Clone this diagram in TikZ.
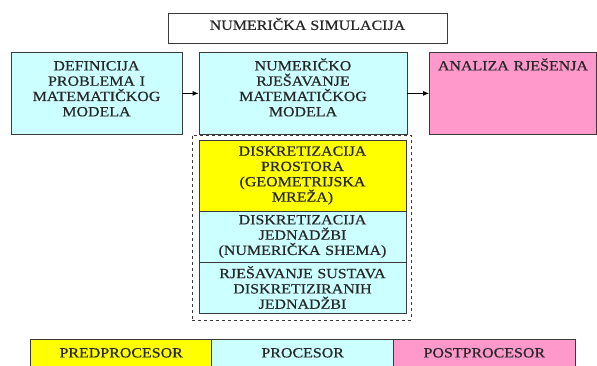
\documentclass[tikz,border=0pt]{standalone}
\usepackage{fontspec}
\setmainfont[FakeStretch=1.14,FakeBold=0.4]{Liberation Serif}
\usepackage{tikz}
\usetikzlibrary{arrows.meta,shapes}

\definecolor{svcyan}{HTML}{CCFFFF}
\definecolor{svpink}{HTML}{FF99CC}
\definecolor{svyellow}{HTML}{FFFF00}
\definecolor{svline}{HTML}{3A3A3A}
\definecolor{svtext}{HTML}{262626}

\begin{document}
\begin{tikzpicture}[x=1pt,y=-1pt,
  blok/.style={rectangle,draw=svline,line width=0.8pt,align=center,inner sep=0pt,
    text=svtext,font=\fontsize{14}{15.3}\selectfont},
  gornji/.style={blok,anchor=north,text height=18pt,text depth=64pt},
  donji/.style={blok,anchor=north,text height=18pt,text depth=14pt},
  srednji/.style={blok,minimum width=207pt,text width=200pt},
  strelica/.style={-{Latex[length=6pt,width=5pt]},line width=0.9pt,draw=black}]
\clip (0,0) rectangle (597,366);

\node[blok,anchor=north,text height=16.5pt,text depth=13.5pt,minimum width=279pt] (sim) at (307.5,13) {NUMERIČKA SIMULACIJA};

\node[gornji,fill=svcyan,minimum width=171pt,text width=165pt] (def) at (96.5,52) {DEFINICIJA\\PROBLEMA I\\MATEMATIČKOG\\MODELA};
\node[gornji,fill=svcyan,minimum width=208pt,text width=200pt] (num) at (303,52) {NUMERIČKO\\RJEŠAVANJE\\MATEMATIČKOG\\MODELA};
\node[gornji,fill=svpink,minimum width=167pt,text width=160pt] (ana) at (513,52) {ANALIZA RJEŠENJA};

\draw[strelica] (def) -- (num);
\draw[strelica] (num) -- (ana);

\node[rectangle,draw=svline,line width=0.8pt,dashed,minimum width=219pt,minimum height=185pt] (okvir) at (301.5,227.5) {};

\node[srednji,fill=svyellow,minimum height=71pt] (dpro) at (302.5,175.5) {DISKRETIZACIJA\\PROSTORA\\(GEOMETRIJSKA\\MREŽA)};
\node[srednji,fill=svcyan,minimum height=51pt] (djed) at (302.5,236.5) {DISKRETIZACIJA\\JEDNADŽBI\\(NUMERIČKA SHEMA)};
\node[srednji,fill=svcyan,minimum height=51pt] (rsus) at (302.5,287.5) {RJEŠAVANJE SUSTAVA\\DISKRETIZIRANIH\\JEDNADŽBI};

\node[donji,fill=svyellow,minimum width=181pt] (pre) at (121.2,339) {PREDPROCESOR};
\node[donji,fill=svcyan,minimum width=182pt] (pro) at (302.7,339) {PROCESOR};
\node[donji,fill=svpink,minimum width=181.3pt] (post) at (484.35,339) {POSTPROCESOR};

\end{tikzpicture}
\end{document}
